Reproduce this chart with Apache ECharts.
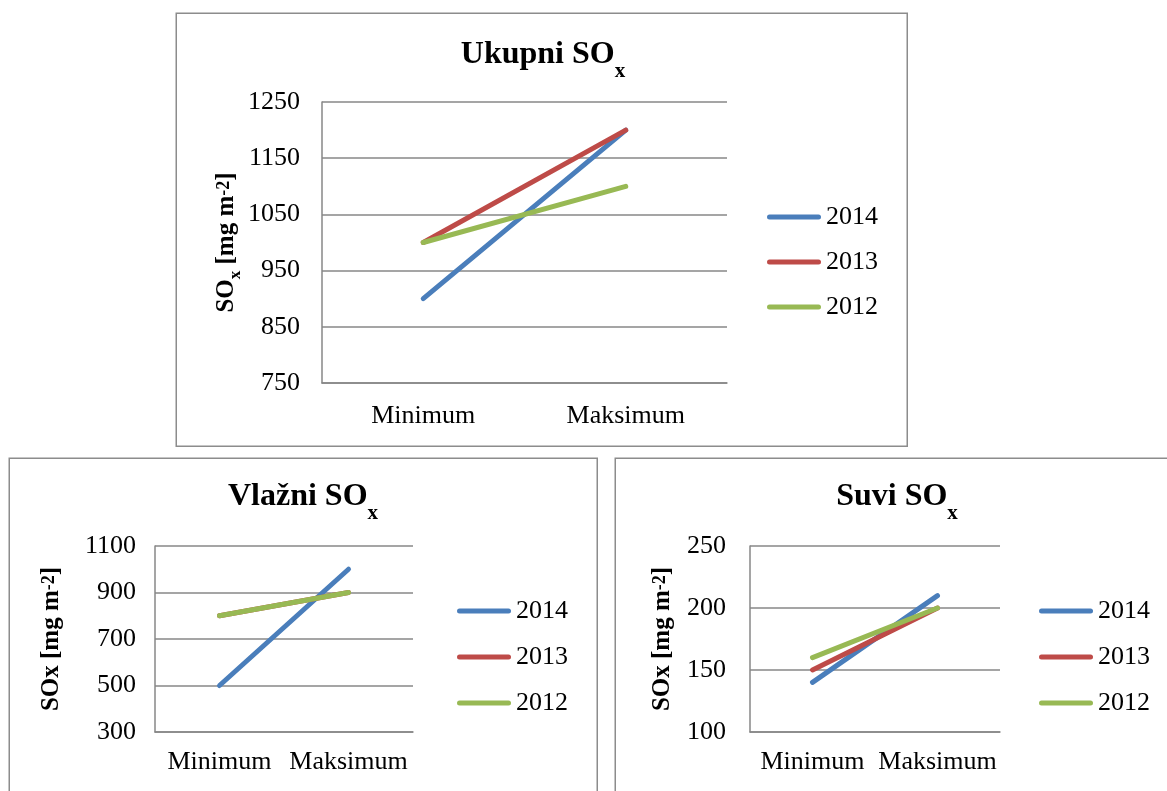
<!DOCTYPE html>
<html>
<head>
<meta charset="utf-8">
<title>SOx</title>
<script src="https://cdn.jsdelivr.net/npm/echarts@6/dist/echarts.min.js"></script>
<style>
  html, body { margin: 0; padding: 0; background: #ffffff; }
  #chart { width: 1167px; height: 791px; }
</style>
</head>
<body>
<div id="chart"></div>
<script>
// Categories and series values for the three SOx deposition panels
const categories = ['Minimum', 'Maksimum'];
const years = ['2014', '2013', '2012'];

// Ukupni SOx (total)
const ukupni2014 = [900, 1200];
const ukupni2013 = [1000, 1200];
const ukupni2012 = [1000, 1100];

// Vlažni SOx (wet)
const vlazni2014 = [500, 1000];
const vlazni2013 = [800, 900];
const vlazni2012 = [800, 900];

// Suvi SOx (dry)
const suvi2014 = [140, 210];
const suvi2013 = [150, 200];
const suvi2012 = [160, 200];

// Value-axis ranges [min, max, interval]
const ukupniAxis = [750, 1250, 100];
const vlazniAxis = [300, 1100, 200];
const suviAxis = [100, 250, 50];

const colors = ['#4a7ebb', '#be4b48', '#98b954'];
const FONT = "'Liberation Serif', 'Times New Roman', serif";
const GRAY = '#878787';

const chart = echarts.init(document.getElementById('chart'), null, { renderer: 'canvas' });

const titleRich = {
  m: { fontFamily: FONT, fontWeight: 'bold', fontSize: 32, lineHeight: 32, verticalAlign: 'top', color: '#000' },
  s: { fontFamily: FONT, fontWeight: 'bold', fontSize: 21, lineHeight: 21, verticalAlign: 'top', padding: [22, 0, 0, 0], color: '#000' }
};

const nameRich = {
  m: { fontFamily: FONT, fontWeight: 'bold', fontSize: 25, lineHeight: 30, verticalAlign: 'top', color: '#000' },
  s: { fontFamily: FONT, fontWeight: 'bold', fontSize: 17, lineHeight: 17, verticalAlign: 'top', padding: [13, 0, 0, 0], color: '#000' },
  p: { fontFamily: FONT, fontWeight: 'bold', fontSize: 18, lineHeight: 18, verticalAlign: 'top', padding: [1, 0, 0, 0], color: '#000' }
};

const grids = [
  { left: 322, top: 102, width: 405, height: 281 },
  { left: 155, top: 546, width: 258, height: 186 },
  { left: 750, top: 546, width: 250, height: 186 }
];

function xAxis(gridIndex, margin) {
  return {
    type: 'category', gridIndex, data: categories, boundaryGap: true,
    axisLine: { show: true, lineStyle: { color: GRAY, width: 1.5 } },
    axisTick: { show: false },
    axisLabel: { color: '#000', fontFamily: FONT, fontSize: 26, margin, interval: 0, hideOverlap: false }
  };
}

function yAxis(gridIndex, range, name, nameGap, margin) {
  return {
    type: 'value', gridIndex, min: range[0], max: range[1], interval: range[2],
    name, nameLocation: 'middle', nameGap, nameRotate: 90,
    nameTextStyle: { rich: nameRich },
    axisLine: { show: true, lineStyle: { color: GRAY, width: 1.5 } },
    axisTick: { show: false },
    splitLine: { show: true, lineStyle: { color: GRAY, width: 1.5 } },
    axisLabel: { color: '#000', fontFamily: FONT, fontSize: 26, margin, formatter: v => String(v) }
  };
}

function lineSeries(name, data, idx, colorIdx) {
  return {
    type: 'line', name, data, xAxisIndex: idx, yAxisIndex: idx,
    symbol: 'none', color: colors[colorIdx],
    lineStyle: { width: 5, cap: 'round', join: 'round', color: colors[colorIdx] },
    animation: false
  };
}

function legend(left, top, gap) {
  return {
    orient: 'vertical', left, top, data: years, padding: 0,
    icon: 'path://M2.5,0 L51.5,0 A2.5,2.5 0 0 1 51.5,5 L2.5,5 A2.5,2.5 0 0 1 2.5,0 Z',
    itemWidth: 54, itemHeight: 5, itemGap: gap,
    selectedMode: false,
    textStyle: { color: '#000', fontFamily: FONT, fontSize: 26 }
  };
}

function panelBox(x, y, w, h) {
  return {
    type: 'rect', left: x, top: y, silent: true, z: -10,
    shape: { width: w, height: h },
    style: { fill: '#fff', stroke: '#8c8c8c', lineWidth: 1.5 }
  };
}

const option = {
  backgroundColor: '#ffffff',
  animation: false,
  graphic: [
    panelBox(175.5, 12.5, 731, 433),
    panelBox(8.5, 457.5, 588, 345),
    panelBox(614.5, 457.5, 570, 345)
  ],
  title: [
    { text: '{m|Ukupni SO}{s|x}', left: 538, top: 34, textAlign: 'center', textStyle: { rich: titleRich } },
    { text: '{m|Vlažni SO}{s|x}', left: 298, top: 476, textAlign: 'center', textStyle: { rich: titleRich } },
    { text: '{m|Suvi SO}{s|x}', left: 892, top: 476, textAlign: 'center', textStyle: { rich: titleRich } }
  ],
  legend: [
    legend(767, 204, 19),
    legend(457, 598, 20),
    legend(1039, 598, 20)
  ],
  grid: grids,
  xAxis: [xAxis(0, 20), xAxis(1, 17), xAxis(2, 17)],
  yAxis: [
    yAxis(0, ukupniAxis, '{m|SO}{s|x}{m| [mg m}{p|-2}{m|]}', 78, 22),
    yAxis(1, vlazniAxis, '{m|SOx [mg m}{p|-2}{m|]}', 86, 19),
    yAxis(2, suviAxis, '{m|SOx [mg m}{p|-2}{m|]}', 70, 24)
  ],
  series: [
    lineSeries('2014', ukupni2014, 0, 0),
    lineSeries('2013', ukupni2013, 0, 1),
    lineSeries('2012', ukupni2012, 0, 2),
    lineSeries('2014', vlazni2014, 1, 0),
    lineSeries('2013', vlazni2013, 1, 1),
    lineSeries('2012', vlazni2012, 1, 2),
    lineSeries('2014', suvi2014, 2, 0),
    lineSeries('2013', suvi2013, 2, 1),
    lineSeries('2012', suvi2012, 2, 2)
  ]
};

chart.setOption(option);
</script>
</body>
</html>
